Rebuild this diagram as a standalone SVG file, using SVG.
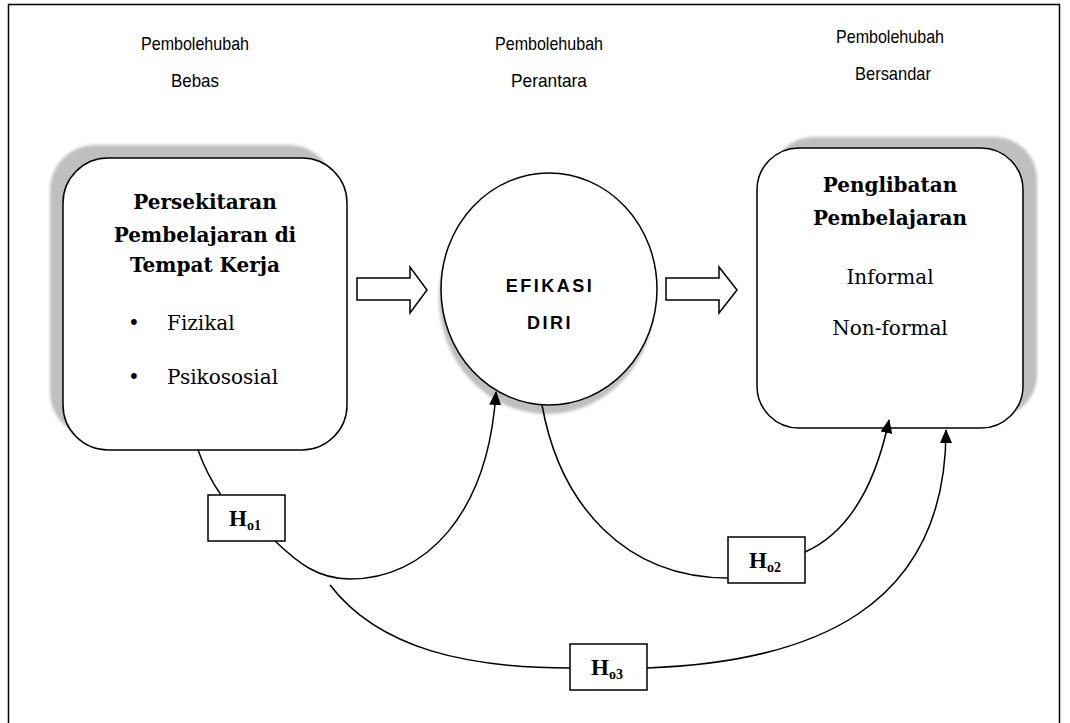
<svg xmlns="http://www.w3.org/2000/svg" width="1070" height="723" viewBox="0 0 1070 723">
<defs>
<style>
.lbl{font-family:"Liberation Sans",Arial,sans-serif;font-size:18.5px;text-anchor:middle;fill:#000}
.tb{font-family:"DejaVu Serif","Liberation Serif",serif;font-size:20px;font-weight:bold;text-anchor:middle;fill:#000}
.tr{font-family:"DejaVu Serif","Liberation Serif",serif;font-size:20px;fill:#000}
.tc{font-family:"Liberation Sans",Arial,sans-serif;font-size:18px;font-weight:bold;letter-spacing:2.5px;text-anchor:middle;fill:#000}
.hb{font-family:"Liberation Serif","Times New Roman",serif;font-weight:bold;fill:#000}
.node{fill:#fff;stroke:#000;stroke-width:1.5}
.shadow{fill:#bfbfbf;filter:url(#blur)}
.conn{fill:none;stroke:#000;stroke-width:1.5}
.hbox{fill:#fff;stroke:#000;stroke-width:1.5}
</style>
<filter id="blur" x="-10%" y="-10%" width="120%" height="120%"><feGaussianBlur stdDeviation="1.5"/></filter>
<marker id="ah" viewBox="0 0 14 12" refX="13" refY="6" markerWidth="14" markerHeight="12" markerUnits="userSpaceOnUse" orient="auto"><path d="M0,0 L14,6 L0,12 z" fill="#000"/></marker>
</defs>
<rect x="8.5" y="4.5" width="1051" height="730" fill="#fff" stroke="#000" stroke-width="1.5"/>
<g id="labels">
<text class="lbl" x="195" y="50" textLength="108" lengthAdjust="spacingAndGlyphs">Pembolehubah</text>
<text class="lbl" x="195" y="87" textLength="48" lengthAdjust="spacingAndGlyphs">Bebas</text>
<text class="lbl" x="549" y="50" textLength="108" lengthAdjust="spacingAndGlyphs">Pembolehubah</text>
<text class="lbl" x="549" y="87" textLength="76" lengthAdjust="spacingAndGlyphs">Perantara</text>
<text class="lbl" x="890" y="43" textLength="108" lengthAdjust="spacingAndGlyphs">Pembolehubah</text>
<text class="lbl" x="893" y="80" textLength="76" lengthAdjust="spacingAndGlyphs">Bersandar</text>
</g>
<g id="node-persekitaran">
<rect class="shadow" x="50" y="145" width="284" height="292" rx="45"/>
<rect class="node" x="63" y="158" width="284" height="292" rx="45"/>
<text class="tb" x="205" y="209">Persekitaran</text>
<text class="tb" x="205" y="242">Pembelajaran di</text>
<text class="tb" x="205" y="272">Tempat Kerja</text>
<text class="tr" x="128" y="330" font-size="22">•</text>
<text class="tr" x="167" y="330">Fizikal</text>
<text class="tr" x="128" y="384" font-size="22">•</text>
<text class="tr" x="167" y="384">Psikososial</text>
</g>
<g id="node-efikasi">
<ellipse class="shadow" cx="547" cy="298" rx="108" ry="116"/>
<ellipse class="node" cx="549" cy="289" rx="108" ry="116"/>
<text class="tc" x="550" y="292">EFIKASI</text>
<text class="tc" x="550" y="329">DIRI</text>
</g>
<g id="node-penglibatan">
<rect class="shadow" x="771" y="137" width="266" height="280" rx="42"/>
<rect class="node" x="757" y="148" width="266" height="280" rx="42"/>
<text class="tb" x="890" y="192">Penglibatan</text>
<text class="tb" x="890" y="225">Pembelajaran</text>
<text class="tr" x="890" y="284" text-anchor="middle">Informal</text>
<text class="tr" x="890" y="335" text-anchor="middle">Non-formal</text>
</g>
<g id="connectors">
<polygon class="conn" points="357,278 410,278 410,267 427,290 410,313 410,300 357,300" fill="#fff"/>
<polygon class="conn" points="666,278 719,278 719,267 737,290 719,313 719,300 666,300" fill="#fff"/>
<path class="conn" d="M198,450 Q207,475 221,495"/>
<path class="conn" d="M275,541 C298,563 318,579 350,579 C425,579 488,515 496,392" marker-end="url(#ah)"/>
<path class="conn" d="M330,585 C380,650 470,668 570,668"/>
<path class="conn" d="M647,668 C810,662 946,610 946,430" marker-end="url(#ah)"/>
<path class="conn" d="M542,405 C560,505 625,578 728,578"/>
<path class="conn" d="M805,552 C850,532 876,482 889,420" marker-end="url(#ah)"/>
</g>
<g id="node-ho1">
<rect class="hbox" x="208" y="495" width="77" height="46"/>
<text class="hb" x="229" y="526" font-size="23">H<tspan font-size="14" dy="4">o1</tspan></text>
</g>
<g id="node-ho2">
<rect class="hbox" x="728" y="537" width="77" height="46"/>
<text class="hb" x="749" y="568" font-size="23">H<tspan font-size="14" dy="4">o2</tspan></text>
</g>
<g id="node-ho3">
<rect class="hbox" x="570" y="644" width="77" height="46"/>
<text class="hb" x="591" y="675" font-size="23">H<tspan font-size="14" dy="4">o3</tspan></text>
</g>
</svg>
